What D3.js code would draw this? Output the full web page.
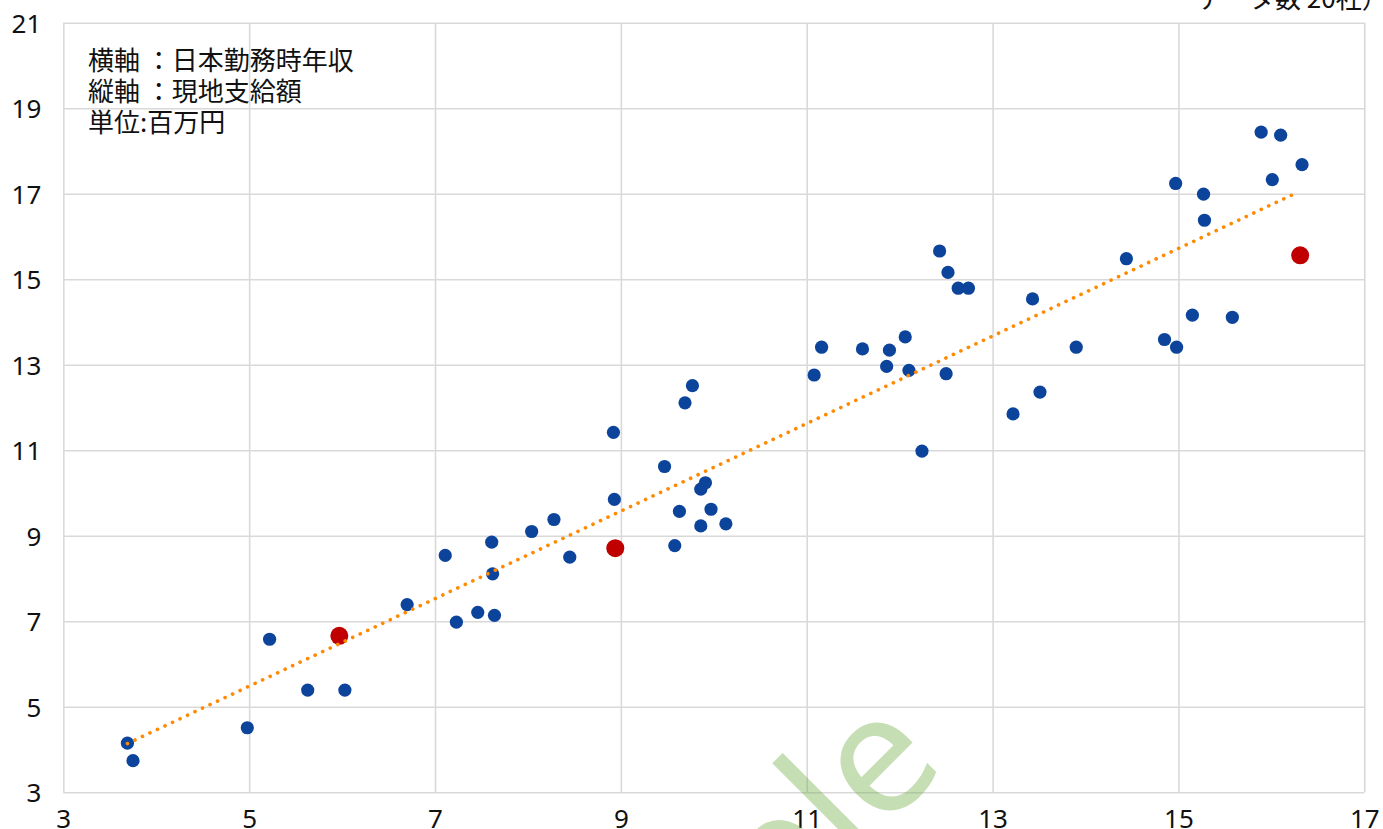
<!DOCTYPE html>
<html>
<head>
<meta charset="utf-8">
<script src="https://cdn.jsdelivr.net/npm/d3@7"></script>
<style>
    body { margin: 0; background: #fff; }
    .tick text { font-family: "Noto Sans", sans-serif; font-size: 26px; fill: #111; }
    .note { font-family: "Noto Sans CJK JP", sans-serif; font-size: 26px; fill: #111; }
</style>
</head>
<body>
<div id="chart"></div>
<script>
const width = 1383,
    height = 829,
    margin = { top: 22.7, right: 18.7, bottom: 36.7, left: 63.3 };

// 各社の値 (横軸 = 日本勤務時年収, 縦軸 = 現地支給額, 単位 百万円)
const blueX = [3.69, 3.75, 4.98, 5.22, 5.63, 6.03, 6.70, 7.11, 7.23, 7.46,
    7.61, 7.62, 7.64, 8.04, 8.28, 8.45, 8.92, 8.93, 9.47, 9.58,
    9.63, 9.69, 9.77, 9.86, 9.86, 9.91, 9.97, 10.13, 11.08, 11.16,
    11.60, 11.86, 11.89, 12.06, 12.10, 12.24, 12.43, 12.50, 12.52, 12.63,
    12.74, 13.22, 13.43, 13.51, 13.90, 14.44, 14.85, 14.98, 14.97, 15.15,
    15.27, 15.28, 15.58, 15.89, 16.01, 16.10, 16.33];
const blueY = [4.15, 3.74, 4.51, 6.58, 5.39, 5.39, 7.39, 8.54, 6.98, 7.21,
    8.85, 8.11, 7.14, 9.10, 9.38, 8.50, 11.42, 9.85, 10.62, 8.77,
    9.57, 12.11, 12.51, 10.09, 9.23, 10.24, 9.62, 9.28, 12.76, 13.41,
    13.37, 12.96, 13.34, 13.65, 12.87, 10.98, 15.66, 12.79, 15.16, 14.79,
    14.79, 11.85, 14.54, 12.36, 13.41, 15.48, 13.59, 13.41, 17.24, 14.16,
    16.99, 16.38, 14.11, 18.44, 17.33, 18.37, 17.68];

// 強調する3社
const redX = [5.97, 8.94, 16.31];
const redY = [6.66, 8.71, 15.56];

// 近似直線 (図から読み取った両端)
const trendX = [3.69, 16.29];
const trendY = [4.14, 17.04];

const xTicks = [3, 5, 7, 9, 11, 13, 15, 17];
const yTicks = [3, 5, 7, 9, 11, 13, 15, 17, 19, 21];

const notes = ["横軸 ：日本勤務時年収", "縦軸 ：現地支給額", "単位:百万円"];
const countNote = "データ数 20社）";

const innerW = width - margin.left - margin.right,
    innerH = height - margin.top - margin.bottom;

const svg = d3.select("#chart")
    .append("svg")
    .attr("width", width)
    .attr("height", height);

const x = d3.scaleLinear().domain([3, 17]).range([0, innerW]),
    y = d3.scaleLinear().domain([3, 21]).range([innerH, 0]);

const g = svg.append("g")
    .attr("transform", `translate(${margin.left},${margin.top})`);

// グリッドと軸
const xAxis = g.append("g")
    .attr("transform", `translate(0,${innerH})`)
    .call(d3.axisBottom(x).tickValues(xTicks).tickSize(-innerH).tickPadding(14).tickFormat(d3.format("d")));

const yAxis = g.append("g")
    .call(d3.axisLeft(y).tickValues(yTicks).tickSize(-innerW).tickPadding(22).tickFormat(d3.format("d")));

[xAxis, yAxis].forEach(a => {
    a.select(".domain").remove();
    a.selectAll(".tick line").attr("stroke", "#d9d9d9").attr("stroke-width", 1.6);
});
xAxis.selectAll(".tick text").attr("dy", "0.71em").attr("y", 17);
yAxis.selectAll(".tick text").attr("dy", "0.36em");

// 点
const points = blueX.map((v, i) => ({ x: v, y: blueY[i] }));
g.selectAll("circle.blue")
    .data(points)
    .enter()
    .append("circle")
    .attr("class", "blue")
    .attr("cx", d => x(d.x))
    .attr("cy", d => y(d.y))
    .attr("r", 6.6)
    .style("fill", "#0d449b");

const reds = redX.map((v, i) => ({ x: v, y: redY[i] }));
g.selectAll("circle.red")
    .data(reds)
    .enter()
    .append("circle")
    .attr("class", "red")
    .attr("cx", d => x(d.x))
    .attr("cy", d => y(d.y))
    .attr("r", 9)
    .style("fill", "#c00000");

// 近似直線 (点線)
const trend = trendX.map((v, i) => [v, trendY[i]]);
g.append("path")
    .datum(trend)
    .attr("d", d3.line().x(d => x(d[0])).y(d => y(d[1])))
    .style("fill", "none")
    .style("stroke", "#ff8a00")
    .style("stroke-width", 3.6)
    .style("stroke-linecap", "round")
    .style("stroke-dasharray", "0.1 8.2");

// 注記
svg.selectAll("text.note")
    .data(notes)
    .enter()
    .append("text")
    .attr("class", "note")
    .attr("x", 88)
    .attr("y", (d, i) => 70 + i * 31)
    .text(d => d);

svg.append("text")
    .attr("class", "note")
    .attr("x", 1197)
    .attr("y", 8)
    .text(countNote);

// 透かし
svg.append("text")
    .attr("transform", "translate(948,766) rotate(-45)")
    .attr("text-anchor", "end")
    .style("font-family", "Noto Sans, sans-serif")
    .style("font-size", "166px")
    .style("fill", "#70ad47")
    .style("opacity", 0.4)
    .text("Sample");
</script>
</body>
</html>
